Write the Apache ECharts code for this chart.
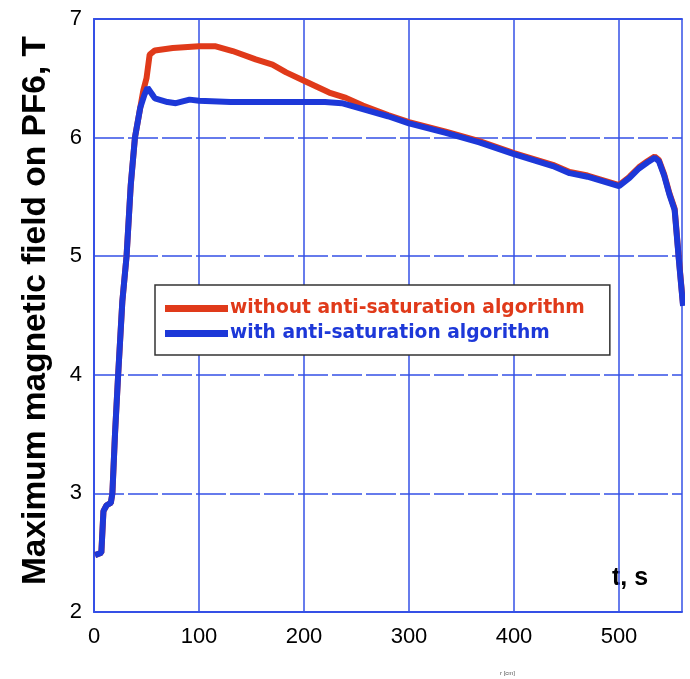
<!DOCTYPE html>
<html>
<head>
<meta charset="utf-8">
<script src="https://cdn.jsdelivr.net/npm/echarts@6/dist/echarts.min.js"></script>
<style>html,body{margin:0;padding:0;background:#fff}#c{width:690px;height:679px}</style>
</head>
<body>
<div id="c"></div>
<script>
const seriesNames = ['without anti-saturation algorithm', 'with anti-saturation algorithm'];
const xTicks = [0, 100, 200, 300, 400, 500];
const yTicks = [2, 3, 4, 5, 6, 7];

const tWithout = [1, 7, 9, 12, 16, 17.5, 20, 23, 27, 31, 35, 39, 44, 47, 50, 53, 58, 75, 100, 116, 132, 154, 170, 183, 200, 224, 240, 256, 280, 300, 335, 367, 400, 437, 453, 470, 485, 500, 510, 519, 527, 534, 538, 543, 548, 553, 557, 561];
const bWithout = [2.48, 2.5, 2.85, 2.9, 2.92, 3.0, 3.5, 4.0, 4.62, 5.0, 5.6, 6.0, 6.25, 6.40, 6.50, 6.70, 6.735, 6.755, 6.77, 6.77, 6.73, 6.66, 6.615, 6.55, 6.48, 6.38, 6.335, 6.27, 6.19, 6.13, 6.05, 5.97, 5.87, 5.77, 5.71, 5.68, 5.64, 5.60, 5.67, 5.75, 5.80, 5.84, 5.81, 5.69, 5.53, 5.40, 4.98, 4.59];

const tWith = [1, 7, 9, 12, 16, 17.5, 20, 23, 27, 31, 35, 39, 44, 48, 51, 55, 58, 70, 78, 91, 100, 130, 160, 190, 220, 236, 256, 280, 300, 335, 367, 400, 437, 453, 470, 485, 500, 510, 519, 527, 534, 538, 543, 548, 553, 557, 561];
const bWith = [2.48, 2.5, 2.85, 2.9, 2.92, 3.0, 3.5, 4.0, 4.62, 5.0, 5.6, 6.0, 6.25, 6.36, 6.42, 6.37, 6.33, 6.30, 6.29, 6.32, 6.31, 6.30, 6.30, 6.30, 6.30, 6.29, 6.24, 6.18, 6.12, 6.04, 5.96, 5.86, 5.76, 5.70, 5.67, 5.63, 5.59, 5.66, 5.74, 5.79, 5.83, 5.80, 5.68, 5.52, 5.39, 4.97, 4.58];

const red = '#e03a1a', blue = '#1d38d8', gridBlue = '#3550e6';
const chart = echarts.init(document.getElementById('c'));
const font = 'Liberation Sans, Arial, sans-serif';
const legendFont = 'DejaVu Sans, Verdana, sans-serif';
chart.setOption({
  animation: false,
  grid: { left: 94, right: 8, top: 19, bottom: 67 },
  legend: {
    orient: 'vertical', left: 155, top: 285,
    padding: [14, 25, 12, 10], itemGap: 6,
    borderColor: '#333', borderWidth: 1.5, backgroundColor: '#fff',
    itemWidth: 63, itemHeight: 7, icon: 'rect',
    textStyle: { fontFamily: legendFont, fontWeight: 'bold', fontSize: 18.7, lineHeight: 18, padding: [0, 0, 0, -3] },
    data: [
      { name: seriesNames[0], textStyle: { color: red } },
      { name: seriesNames[1], textStyle: { color: blue } }
    ]
  },
  xAxis: [{
    type: 'value', min: 0, max: 560, interval: 100,
    axisLine: { lineStyle: { color: gridBlue, width: 2 } },
    axisTick: { show: false },
    axisLabel: { color: '#000', fontSize: 22, fontFamily: font, margin: 14,
      formatter: v => xTicks.includes(v) ? String(v) : '' },
    splitLine: { lineStyle: { color: gridBlue, width: 1.5 } }
  }, {
    type: 'value', position: 'top', min: 0, max: 560,
    axisLine: { show: true, lineStyle: { color: gridBlue, width: 2 } },
    axisTick: { show: false }, axisLabel: { show: false }, splitLine: { show: false }
  }],
  yAxis: {
    type: 'value', min: 2, max: 7, interval: 1,
    name: 'Maximum magnetic field on PF6, T', nameLocation: 'middle', nameGap: 41,
    nameTextStyle: { color: '#000', fontSize: 33.5, fontWeight: 'bold', fontFamily: font, padding: [0, 0, 0, 10] },
    axisLine: { show: true, lineStyle: { color: gridBlue, width: 2 } },
    axisTick: { show: false },
    axisLabel: { color: '#000', fontSize: 22, fontFamily: font, margin: 12,
      formatter: v => yTicks.includes(v) ? String(v) : '' },
    splitLine: { lineStyle: { color: gridBlue, width: 1.5, type: [30, 4] } }
  },
  series: [
    { name: seriesNames[0], type: 'line', symbol: 'none', color: red,
      lineStyle: { color: red, width: 6 }, data: tWithout.map((t, i) => [t, bWithout[i]]) },
    { name: seriesNames[1], type: 'line', symbol: 'none', color: blue,
      lineStyle: { color: blue, width: 6 }, data: tWith.map((t, i) => [t, bWith[i]]) }
  ],
  graphic: [
    { type: 'text', left: 612, top: 566, style: { text: 't, s', font: 'bold 25px ' + font, fill: '#000' } },
    { type: 'text', left: 500, top: 670, style: { text: 'r [cm]', font: '6px ' + font, fill: '#555' } }
  ]
});
</script>
</body>
</html>
